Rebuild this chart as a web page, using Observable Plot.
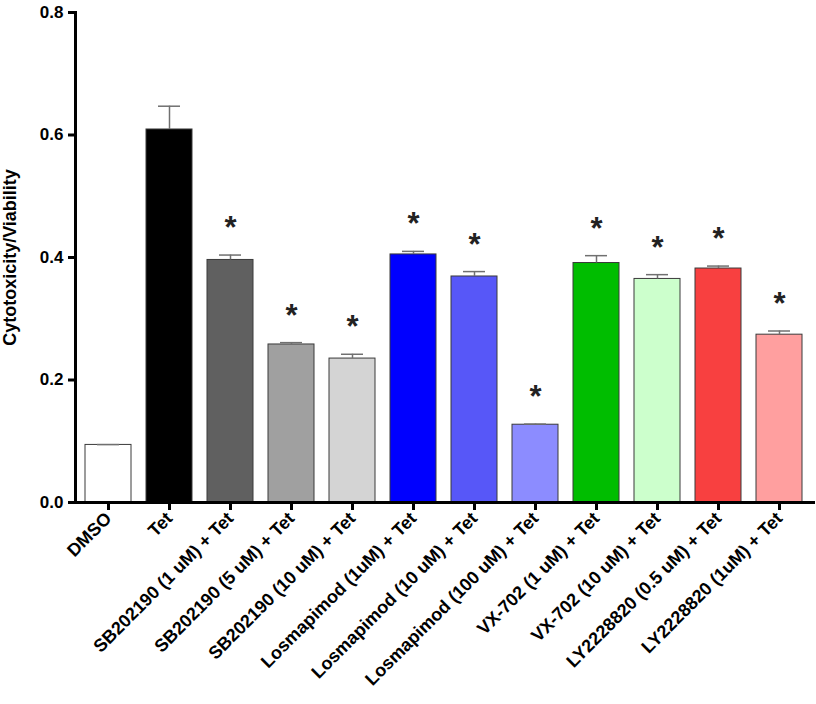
<!DOCTYPE html>
<html><head><meta charset="utf-8">
<script src="https://cdn.jsdelivr.net/npm/d3@7"></script>
<script src="https://cdn.jsdelivr.net/npm/@observablehq/plot@0.6"></script>
<style>body{margin:0;background:#fff}</style>
</head><body><div id="chart"></div>
<script>
const categories = ["DMSO", "Tet", "SB202190 (1 uM) + Tet", "SB202190 (5 uM) + Tet", "SB202190 (10 uM) + Tet",
  "Losmapimod (1uM) + Tet", "Losmapimod (10 uM) + Tet", "Losmapimod (100 uM) + Tet",
  "VX-702 (1 uM) + Tet", "VX-702 (10 uM) + Tet", "LY2228820 (0.5 uM) + Tet", "LY2228820 (1uM) + Tet"];
const means = [0.094, 0.609, 0.396, 0.258, 0.235, 0.405, 0.369, 0.127, 0.391, 0.365, 0.382, 0.274];
const sems  = [0.0005, 0.038, 0.008, 0.003, 0.007, 0.005, 0.008, 0.001, 0.012, 0.007, 0.004, 0.006];
const colors = ["#ffffff", "#000000", "#606060", "#a0a0a0", "#d4d4d4", "#0000ff", "#5757f8", "#8c8cff",
  "#00bd00", "#ccffcc", "#f84040", "#ff9f9f"];
const sig = ["", "", "*", "*", "*", "*", "*", "*", "*", "*", "*", "*"];
const yTicks = [0, 0.2, 0.4, 0.6, 0.8];

const data = categories.map((c, i) => ({c, m: means[i], hi: means[i] + sems[i], fill: colors[i], s: sig[i]}));

const chart = Plot.plot({
  width: 816, height: 704,
  marginLeft: 75, marginRight: 3, marginTop: 12, marginBottom: 202,
  style: {fontFamily: "'Liberation Sans', Arial, sans-serif", fontWeight: "bold", fontSize: "16px", color: "#000", background: "#fff"},
  x: {domain: categories, paddingInner: 0.24, paddingOuter: 0.12},
  y: {domain: [0, 0.8]},
  color: {type: "identity"},
  marks: [
    Plot.barY(data, {x: "c", y: "m", fill: "fill", stroke: "#3a3a3a", strokeWidth: 1}),
    Plot.ruleX(data, {x: "c", y1: "m", y2: "hi", stroke: "#707070", strokeWidth: 1.5}),
    Plot.tickY(data, {x: "c", y: "hi", stroke: "#707070", strokeWidth: 1.5, insetLeft: 12, insetRight: 12}),
    Plot.text(data, {x: "c", y: "hi", text: "s", dy: -27, fontSize: 31, fontWeight: "bold", fill: "#222"}),
    Plot.axisY({ticks: yTicks, tickFormat: d3.format(".1f"), tickSize: 7, tickPadding: 5, strokeWidth: 3,
      label: null, fontSize: 17}),
    Plot.axisY({ticks: [], label: "Cytotoxicity/Viability", labelAnchor: "center", labelArrow: false, labelOffset: 72, fontSize: 18}),
    Plot.axisX({tickSize: 8, strokeWidth: 3, tickRotate: -45, tickPadding: 5, label: null, fontSize: 18}),
    Plot.frame({anchor: "left", strokeWidth: 3}),
    Plot.frame({anchor: "bottom", strokeWidth: 3})
  ]
});
document.getElementById("chart").appendChild(chart);
</script>
</body></html>
